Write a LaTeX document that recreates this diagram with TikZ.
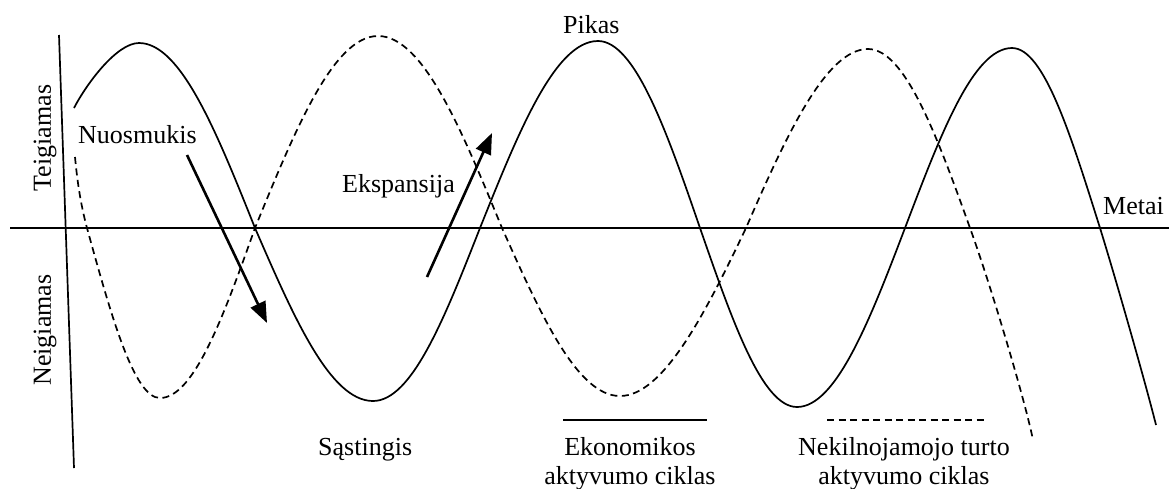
\documentclass[tikz,border=0pt]{standalone}
\usepackage{fontspec}
\setmainfont{Liberation Serif}
\usetikzlibrary{arrows.meta}
\tikzset{
  lbl/.style={inner sep=0pt, font=\fontsize{26}{29}\selectfont},
  axisline/.style={line width=1.7pt},
  curve/.style={line width=1.7pt},
  dcurve/.style={line width=1.7pt, dash pattern=on 7pt off 4.5pt},
  bigarrow/.style={line width=2.6pt, -{Triangle[length=21pt,width=16pt]}}
}
\begin{document}
\begin{tikzpicture}[x=1pt,y=-1pt]
\useasboundingbox (0,0) rectangle (1169,488);
% axes
\coordinate (hx0) at (10,228);
\coordinate (hx1) at (1169,228);
\coordinate (vy0) at (59,35);
\coordinate (vy1) at (74,468);
\draw[axisline] (hx0) -- (hx1);
\draw[axisline] (vy0) -- (vy1);
% economic activity cycle (solid)
\draw[curve] (74,108) .. controls (87,83) and (117,43) .. (139,43)
  .. controls (181,43) and (217,133) .. (255,228)
  .. controls (293.5,316.6) and (330,401) .. (373,401)
  .. controls (412,401) and (445,317) .. (480,228)
  .. controls (518.5,132) and (555,41) .. (598,41)
  .. controls (635,41) and (667,132) .. (700,228)
  .. controls (732,320) and (762,407) .. (797,407)
  .. controls (836,407) and (870,320) .. (905,228)
  .. controls (940,136) and (973,48) .. (1012,48)
  .. controls (1044,48) and (1071,136) .. (1100,228)
  .. controls (1117,283) and (1146,385) .. (1156,425);
% real estate cycle (dashed)
\draw[dcurve] (75,157) .. controls (77,178) and (80,202) .. (87,228)
  .. controls (111,315) and (134,398) .. (160,398)
  .. controls (194,398) and (224,315) .. (255,228)
  .. controls (295,130) and (333.5,36) .. (378,36)
  .. controls (423,36) and (461.6,129.7) .. (502,228)
  .. controls (540.5,314) and (577,396) .. (620,396)
  .. controls (663,396) and (705,314) .. (746,228)
  .. controls (786,136) and (826,49) .. (868,49)
  .. controls (905,49) and (937,136) .. (970,228)
  .. controls (990,283) and (1025,400) .. (1033,440);
% arrows
\coordinate (n0) at (187,155);
\coordinate (n1) at (267,323);
\coordinate (e0) at (427,277);
\coordinate (e1) at (492,133);
\draw[bigarrow] (n0) -- (n1);
\draw[bigarrow] (e0) -- (e1);
% labels
\node[lbl, rotate=90] (teig) at (45,138) {Teigiamas};
\node[lbl, rotate=90] (neig) at (45,330) {Neigiamas};
\node[lbl, anchor=base west] (nuos) at (78,143) {Nuosmukis};
\node[lbl, anchor=base west] (eksp) at (342,192) {Ekspansija};
\node[lbl, anchor=base west] (pikas) at (563,33) {Pikas};
\node[lbl, anchor=base west] (metai) at (1103,214) {Metai};
\node[lbl, anchor=base west] (sast) at (318,455) {Sąstingis};
% legend
\coordinate (ls0) at (563,420);
\coordinate (ls1) at (707,420);
\coordinate (ld0) at (827,420);
\coordinate (ld1) at (988,420);
\draw[curve] (ls0) -- (ls1);
\draw[dcurve] (ld0) -- (ld1);
\node[lbl, anchor=north, align=center] (ekon) at (630,437.5) {Ekonomikos\\aktyvumo ciklas};
\node[lbl, anchor=north, align=center] (nekil) at (904,437.5) {Nekilnojamojo turto\\aktyvumo ciklas};
\end{tikzpicture}
\end{document}
